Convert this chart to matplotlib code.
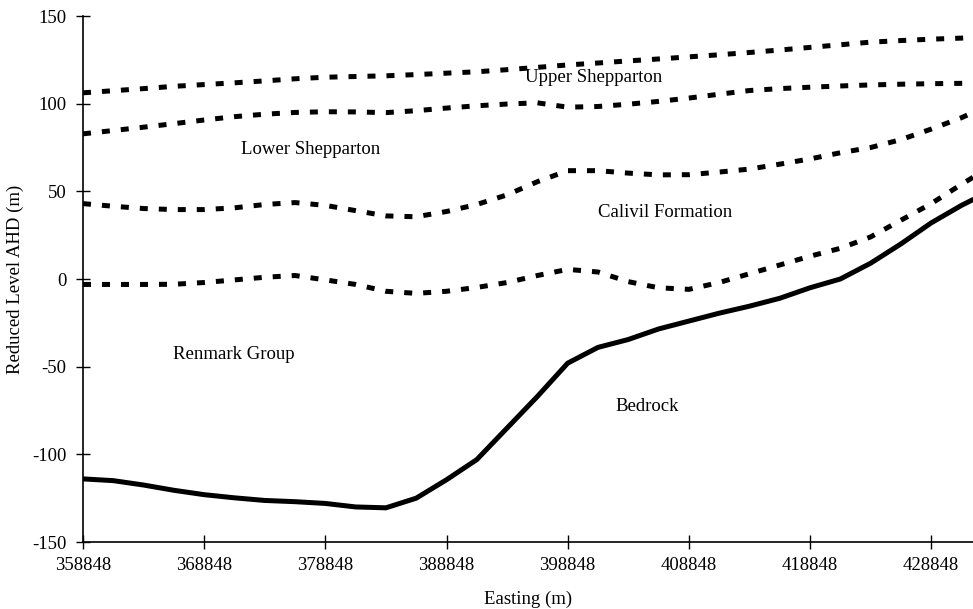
import numpy as np
import matplotlib
matplotlib.use('Agg')
import matplotlib.pyplot as plt

plt.rcParams['font.family'] = ['Liberation Serif', 'DejaVu Serif']
plt.rcParams['axes.unicode_minus'] = False

# stations along the section, every 2500 m
easting = [358848, 361348, 363848, 366348, 368848, 371348, 373848, 376348,
           378848, 381348, 383848, 386348, 388848, 391348, 393848, 396348,
           398848, 401348, 403848, 406348, 408848, 411348, 413848, 416348,
           418848, 421348, 423848, 426348, 428848, 431348, 432300]

# top of Upper Shepparton (m AHD)
upper_shep = [106.2, 107.4, 108.6, 109.9, 110.9, 111.9, 113.0, 114.2,
              115.1, 115.5, 115.9, 116.6, 117.4, 118.2, 119.4, 120.7,
              122.1, 123.2, 124.4, 125.5, 126.7, 127.9, 129.2, 130.6,
              132.1, 133.6, 135.1, 136.0, 136.8, 137.4, 137.6]

# top of Lower Shepparton
lower_shep = [82.8, 84.7, 86.6, 88.6, 90.7, 92.6, 94.0, 95.0,
              95.4, 95.3, 94.9, 96.0, 97.5, 98.8, 99.8, 100.5,
              98.0, 98.4, 99.7, 101.3, 103.2, 105.4, 107.5, 108.6,
              109.4, 110.1, 110.7, 111.1, 111.4, 111.6, 111.7]

# top of Calivil Formation
calivil = [43.0, 41.5, 40.2, 39.6, 39.6, 40.6, 42.5, 43.6,
           42.0, 39.0, 36.0, 35.5, 38.5, 42.5, 48.0, 55.5,
           61.8, 61.8, 60.4, 59.4, 59.5, 61.0, 62.7, 65.5,
           68.5, 72.0, 75.0, 79.5, 85.5, 92.0, 95.0]

# top of Renmark Group
renmark = [-3.1, -3.1, -3.1, -3.0, -2.0, -0.5, 1.0, 2.0,
           -0.5, -3.1, -7.0, -8.2, -7.0, -4.8, -2.0, 2.0,
           5.5, 4.0, -1.5, -5.0, -5.9, -2.0, 3.0, 8.0,
           13.0, 17.5, 24.0, 33.5, 43.0, 54.0, 58.0]

# bedrock surface
bedrock = [-114.0, -115.0, -117.5, -120.5, -123.0, -124.8, -126.3, -127.0,
           -128.0, -130.0, -130.5, -125.0, -114.5, -103.0, -85.0, -67.0,
           -48.0, -39.0, -34.5, -28.5, -24.0, -19.5, -15.5, -11.0,
           -5.0, 0.0, 9.0, 20.0, 32.0, 42.0, 45.3]

unit_labels = ['Upper Shepparton', 'Lower Shepparton', 'Calivil Formation',
               'Renmark Group', 'Bedrock']
label_x = [401000, 377600, 406900, 371300, 405400]
label_y = [115, 74, 38, -43, -72.5]

xticks = np.arange(358848, 432000, 10000)
yticks = np.arange(-150, 151, 50)

fig = plt.figure(figsize=(9.73, 6.09), dpi=100)
ax = fig.add_axes([0.0853, 0.110, 0.9147, 0.8637])

dash = (0, (1.6, 2.2))
for series in [upper_shep, lower_shep, calivil, renmark]:
    ax.plot(easting, series, color='black', lw=3.6, ls=dash,
            dash_capstyle='butt')
ax.plot(easting, bedrock, color='black', lw=3.6, solid_capstyle='round')

for name, tx, ty in zip(unit_labels, label_x, label_y):
    ax.text(tx, ty, name, fontsize=13.5, ha='center', va='center')

ax.set_xlim(358848, 432300)
ax.set_ylim(-150, 150)
ax.set_xticks(xticks)
ax.set_xticklabels([str(v) for v in xticks])
ax.set_yticks(yticks)
ax.tick_params(direction='inout', length=10, width=1, labelsize=13.5)
ax.tick_params(axis='x', pad=6)
ax.tick_params(axis='y', pad=7)

for side in ['top', 'right']:
    ax.spines[side].set_visible(False)
for side in ['left', 'bottom']:
    ax.spines[side].set_linewidth(1.2)

ax.set_xlabel('Easting (m)', fontsize=13.5, labelpad=12)
ax.set_ylabel('Reduced Level AHD (m)', fontsize=13.5, labelpad=6)

fig.savefig('out.png', dpi=100)
